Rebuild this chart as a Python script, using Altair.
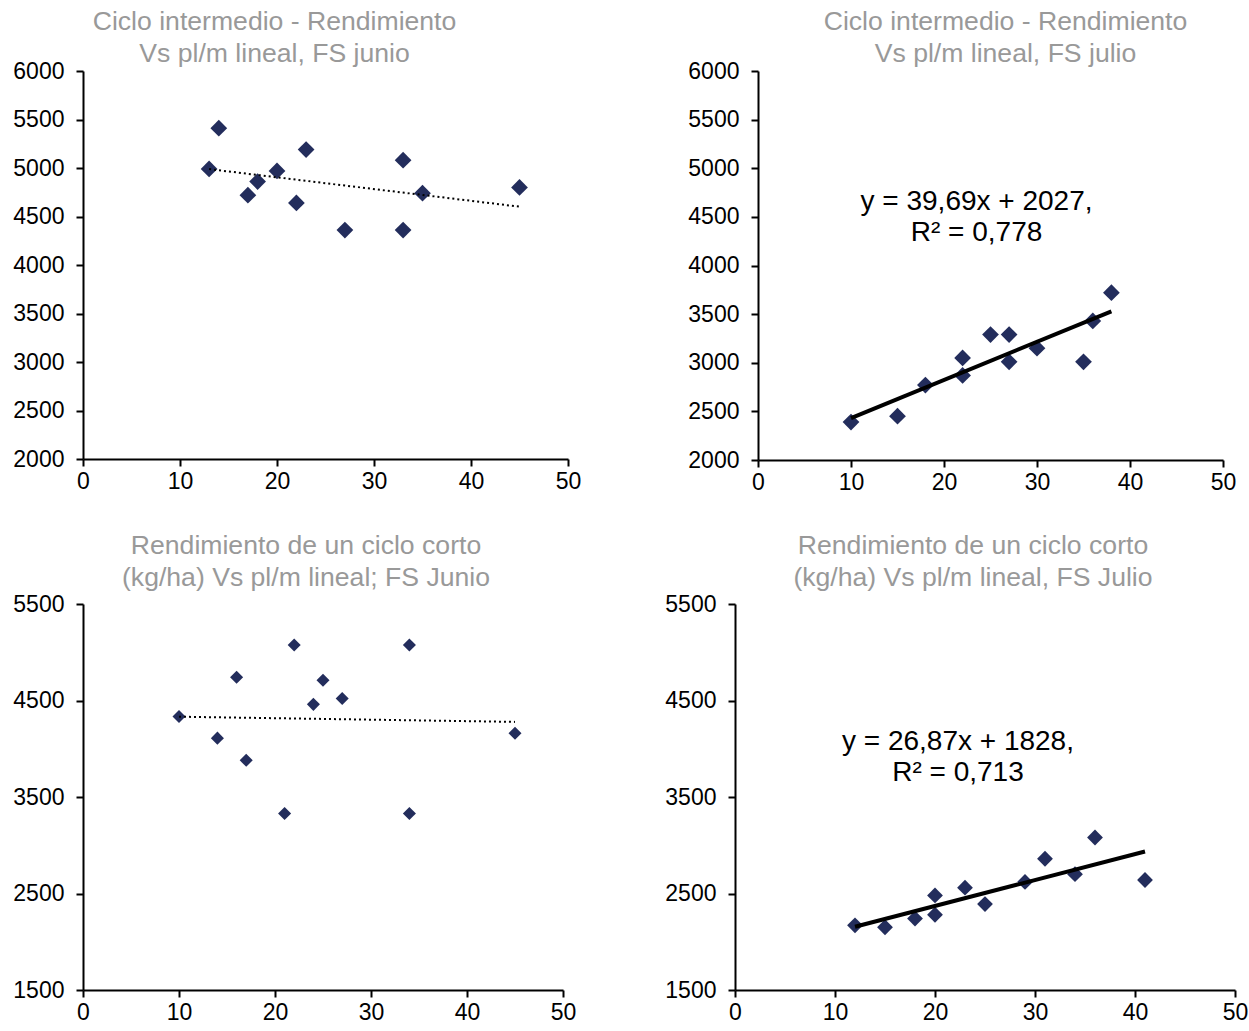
import altair as alt
import pandas as pd

FONT = "Liberation Sans"
NAVY = "#232D5C"
GRAY = "#999999"

# ---- data -------------------------------------------------------------
p1_x = [13, 14, 17, 18, 20, 22, 23, 27, 33, 33, 35, 45]
p1_y = [4990, 5410, 4720, 4860, 4970, 4640, 5190, 4360, 5080, 4360, 4740, 4800]

p2_x = [10, 15, 18, 22, 22, 25, 27, 27, 30, 35, 36, 38]
p2_y = [2390, 2450, 2770, 3050, 2870, 3290, 3290, 3010, 3150, 3010, 3430, 3720]

p3_x = [10, 14, 16, 17, 21, 22, 24, 25, 27, 34, 34, 45]
p3_y = [4335, 4110, 4740, 3880, 3330, 5075, 4460, 4710, 4520, 5075, 3330, 4160]

p4_x = [12, 15, 18, 20, 20, 23, 25, 29, 31, 34, 36, 41]
p4_y = [2170, 2150, 2240, 2480, 2280, 2560, 2390, 2620, 2860, 2700, 3080, 2640]

titles = [
    ["Ciclo intermedio - Rendimiento", "Vs pl/m lineal, FS junio"],
    ["Ciclo intermedio - Rendimiento", "Vs pl/m lineal, FS julio"],
    ["Rendimiento de un ciclo corto", "(kg/ha) Vs pl/m lineal; FS Junio"],
    ["Rendimiento de un ciclo corto", "(kg/ha) Vs pl/m lineal, FS Julio"],
]

eq2 = ["y = 39,69x + 2027,", "R² = 0,778"]
eq4 = ["y = 26,87x + 1828,", "R² = 0,713"]

x_ticks = [0, 10, 20, 30, 40, 50]
y_ticks_top = [2000, 2500, 3000, 3500, 4000, 4500, 5000, 5500, 6000]
y_ticks_bottom = [1500, 2500, 3500, 4500, 5500]


def panel(xs, ys, ydomain, yticks, title, w, h, size, dotted,
          title_offset, title_dx, eq=None, eq_pos=None):
    df = pd.DataFrame({"x": xs, "y": ys})
    X = alt.X("x:Q", scale=alt.Scale(domain=[0, 50], nice=False, zero=False),
              axis=alt.Axis(values=x_ticks, title=None, labelPadding=4, format="d"))
    Y = alt.Y("y:Q", scale=alt.Scale(domain=ydomain, nice=False, zero=False),
              axis=alt.Axis(values=yticks, title=None, labelPadding=12, format="d"))
    pts = alt.Chart(df).mark_point(shape="diamond", filled=True, size=size,
                                   color=NAVY, opacity=1).encode(x=X, y=Y)
    if dotted:
        line = alt.Chart(df).transform_regression("x", "y").mark_line(
            color="black", strokeWidth=2, strokeDash=[2, 3]).encode(x=X, y=Y)
    else:
        line = alt.Chart(df).transform_regression("x", "y").mark_line(
            color="black", strokeWidth=4).encode(x=X, y=Y)
    layers = [pts, line]
    if eq is not None:
        txt = alt.Chart(pd.DataFrame({"k": [0]})).mark_text(
            text=eq, font=FONT, fontSize=28, color="black", align="center",
            baseline="middle", lineHeight=31
        ).encode(x=alt.datum(eq_pos[0]), y=alt.datum(eq_pos[1]))
        layers.append(txt)
    return alt.layer(*layers).properties(
        width=w, height=h,
        title=alt.TitleParams(text=title, font=FONT, fontSize=26.6, color=GRAY,
                              fontWeight="normal", anchor="middle",
                              dx=title_dx, offset=title_offset, lineHeight=32),
    )


c1 = panel(p1_x, p1_y, [2000, 6000], y_ticks_top, titles[0], 485, 388, 280,
           True, -8, -51)
c2 = panel(p2_x, p2_y, [2000, 6000], y_ticks_top, titles[1], 465, 389, 280,
           False, -8, 15, eq2, (23.5, 4656))
c3 = panel(p3_x, p3_y, [1500, 5500], y_ticks_bottom, titles[2], 480, 386, 170,
           True, 1, -17)
c4 = panel(p4_x, p4_y, [1500, 5500], y_ticks_bottom, titles[3], 500, 386, 250,
           False, 1, -12, eq4, (22.3, 4070))

top = alt.hconcat(c1, c2, spacing=106)
bottom = alt.hconcat(c3, c4, spacing=88)

chart = alt.vconcat(top, bottom, spacing=39).properties(
    padding={"left": 12, "top": 9, "right": 0, "bottom": 0}
).configure_view(stroke=None).configure_axis(
    domainColor="black", domainWidth=2, tickColor="black", tickWidth=2,
    tickSize=7, labelColor="black", labelFont=FONT, labelFontSize=23,
    grid=False, labelFlush=False, labelOverlap=False
)

chart.save("out.html", embed_options={"renderer": "svg", "actions": False})
